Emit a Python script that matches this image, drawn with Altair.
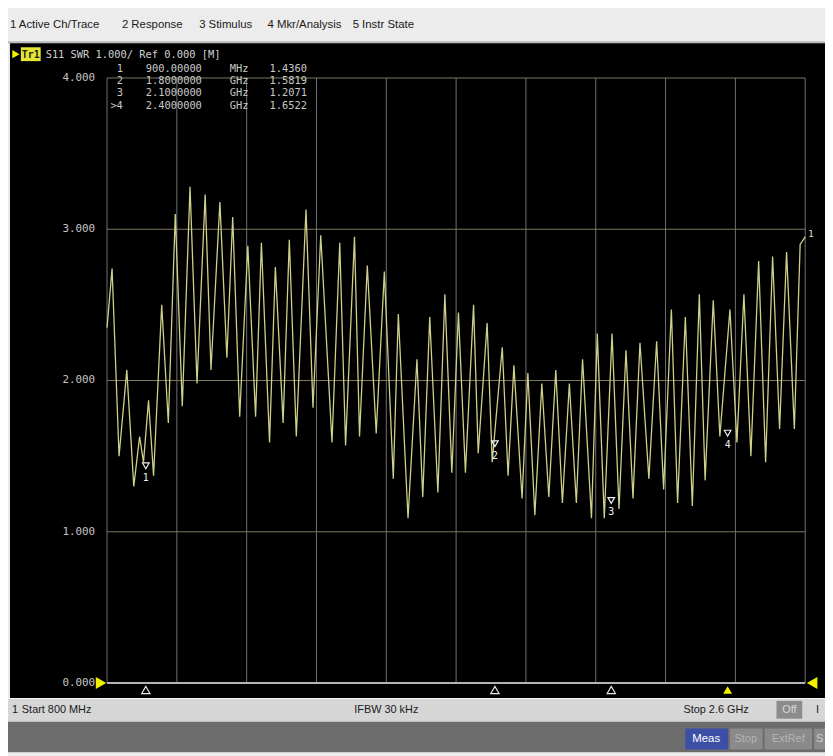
import altair as alt
import pandas as pd

# S11 SWR trace: frequency (MHz) and SWR value at each turning point
freq_mhz = [800, 813, 831, 851, 869, 884, 894, 907, 920, 941,
            958, 976, 994, 1014, 1032, 1053, 1068, 1091, 1109, 1124,
            1142, 1163, 1183, 1198, 1219, 1234, 1254, 1270, 1288, 1313,
            1331, 1351, 1380, 1400, 1415, 1438, 1451, 1471, 1494, 1515,
            1538, 1551, 1576, 1599, 1614, 1632, 1653, 1671, 1689, 1706,
            1724, 1745, 1757, 1780, 1793, 1819, 1834, 1849, 1870, 1885,
            1903, 1921, 1939, 1957, 1974, 1992, 2010, 2026, 2049, 2064,
            2082, 2102, 2120, 2138, 2156, 2174, 2197, 2217, 2235, 2255,
            2271, 2291, 2309, 2327, 2342, 2363, 2380, 2406, 2424, 2442,
            2460, 2480, 2498, 2516, 2534, 2552, 2572, 2587, 2600]
swr = [2.35, 2.74, 1.50, 2.07, 1.30, 1.63, 1.46, 1.87, 1.37, 2.50,
       1.72, 3.10, 1.83, 3.28, 1.98, 3.23, 2.07, 3.18, 2.15, 3.08,
       1.76, 2.89, 1.76, 2.91, 1.59, 2.75, 1.72, 2.93, 1.63, 3.13,
       1.82, 2.96, 1.59, 2.91, 1.57, 2.95, 1.63, 2.76, 1.65, 2.72,
       1.35, 2.44, 1.09, 2.14, 1.23, 2.42, 1.26, 2.57, 1.39, 2.45,
       1.39, 2.50, 1.52, 2.38, 1.46, 2.22, 1.37, 2.10, 1.22, 2.05,
       1.11, 1.98, 1.23, 2.07, 1.19, 1.98, 1.19, 2.14, 1.09, 2.31,
       1.09, 2.31, 1.15, 2.20, 1.22, 2.25, 1.35, 2.26, 1.28, 2.47,
       1.19, 2.42, 1.17, 2.57, 1.34, 2.53, 1.63, 2.47, 1.59, 2.57,
       1.50, 2.79, 1.46, 2.82, 1.68, 2.85, 1.68, 2.90, 2.95]

# markers
mkr_id = ["1", "2", "3", "4"]
mkr_label = ["1", "2", "3", ">4"]
mkr_freq = [900, 1800, 2100, 2400]
mkr_freq_txt = ["900.00000", "1.8000000", "2.1000000", "2.4000000"]
mkr_unit = ["MHz", "GHz", "GHz", "GHz"]
mkr_val = [1.4360, 1.5819, 1.2071, 1.6522]
mkr_active = [False, False, False, True]

# graticule
x_grid = [800, 980, 1160, 1340, 1520, 1700, 1880, 2060, 2240, 2420, 2600]
y_ticks = [0, 1, 2, 3, 4]

menu_items = ["1 Active Ch/Trace", "2 Response", "3 Stimulus", "4 Mkr/Analysis", "5 Instr State"]
menu_x = [10, 123, 201, 270, 356]

# ---------------- layout ----------------
W, H = 705, 611          # plot area (page x 108..813, y 75..686)
OX, OY = 108, 75


def px(x):
    return x - OX


def py(y):
    return y - OY


xs = alt.Scale(domain=[800, 2600], nice=False, zero=False)
ys = alt.Scale(domain=[0, 4], nice=False, zero=False)
one = pd.DataFrame({"k": [0]})
MONO = "DejaVu Sans Mono"
SANS = "Liberation Sans"


def box(x1, y1, x2, y2, color, **kw):
    return alt.Chart(one).mark_rect(color=color, **kw).encode(
        x=alt.value(px(x1)), x2=alt.value(px(x2)),
        y=alt.value(py(y1)), y2=alt.value(py(y2)))


def label(x, y, s, **kw):
    return alt.Chart(one).mark_text(text=s, **kw).encode(
        x=alt.value(px(x)), y=alt.value(py(y)))


layers = []

# screen panels
layers.append(box(8, 38, 833, 40, "#b8b8b8"))
layers.append(box(10, 40, 833, 701, "#000000"))
layers.append(box(8, 701, 833, 725, "#d6d6d6"))
layers.append(box(8, 701, 833, 702, "#f4f4f4"))
layers.append(box(8, 725, 833, 756, "#6c6c6c"))

# menu
for s, x in zip(menu_items, menu_x):
    layers.append(label(x, 22, s, align="left", baseline="middle", font=SANS,
                        fontSize=11.5, color="#1a1a1a"))

# header
layers.append(alt.Chart(one).mark_point(shape="triangle-right", filled=True, size=70,
                                        color="#f0f000", opacity=1).encode(
    x=alt.value(px(16)), y=alt.value(py(51))))
layers.append(box(21, 44, 41, 58, "#e6e632"))
layers.append(label(31, 51.5, "Tr1", align="center", baseline="middle", font=MONO,
                    fontSize=10, color="#202020", fontWeight="bold"))
layers.append(label(46, 51.5, "S11  SWR 1.000/ Ref 0.000 [M]", align="left",
                    baseline="middle", font=MONO, fontSize=10.5, color="#d0d0d0"))

# graticule
vg = pd.DataFrame({"f": x_grid})
layers.append(alt.Chart(vg).mark_rule(color="#707070", strokeWidth=1).encode(
    x=alt.X("f:Q", scale=xs, axis=None), y=alt.value(0), y2=alt.value(H)))
hg = pd.DataFrame({"v": y_ticks[1:]})
layers.append(alt.Chart(hg).mark_rule(color="#7a7a60", strokeWidth=1).encode(
    y=alt.Y("v:Q", scale=ys, axis=None), x=alt.value(0), x2=alt.value(W)))
layers.append(alt.Chart(pd.DataFrame({"v": [0]})).mark_rule(color="#b4b4b4", strokeWidth=2).encode(
    y=alt.Y("v:Q", scale=ys, axis=None), x=alt.value(0), x2=alt.value(W)))

# y labels
yl = pd.DataFrame({"v": y_ticks, "t": [f"{v:.3f}" for v in y_ticks]})
layers.append(alt.Chart(yl).mark_text(align="right", baseline="middle", font=MONO,
                                      fontSize=11, color="#c4c4c4").encode(
    y=alt.Y("v:Q", scale=ys, axis=None), x=alt.value(px(96)), text="t:N"))

# reference-level arrows
layers.append(alt.Chart(pd.DataFrame({"v": [0]})).mark_point(
    shape="triangle-right", filled=True, size=150, color="#f0f000", opacity=1).encode(
    y=alt.Y("v:Q", scale=ys, axis=None), x=alt.value(-6)))
layers.append(alt.Chart(pd.DataFrame({"v": [0]})).mark_point(
    shape="triangle-left", filled=True, size=150, color="#f0f000", opacity=1).encode(
    y=alt.Y("v:Q", scale=ys, axis=None), x=alt.value(W + 7)))

# trace
tr = pd.DataFrame({"f": freq_mhz, "swr": swr})
layers.append(alt.Chart(tr).mark_line(color="#d0d08a", strokeWidth=1.3).encode(
    x=alt.X("f:Q", scale=xs, axis=None), y=alt.Y("swr:Q", scale=ys, axis=None)))
layers.append(label(816, 233, "1", align="left", baseline="middle", font=MONO,
                    fontSize=9, color="#e0e0e0"))

# markers on trace
mk = pd.DataFrame({"f": mkr_freq, "v": mkr_val, "id": mkr_id, "act": mkr_active})
layers.append(alt.Chart(mk).mark_point(shape="triangle-down", filled=False, size=45,
                                       color="#f0f0f0", strokeWidth=1.2, opacity=1).encode(
    x=alt.X("f:Q", scale=xs, axis=None), y=alt.Y("v:Q", scale=ys, axis=None)))
layers.append(alt.Chart(mk).mark_text(font=MONO, fontSize=10, color="#f0f0f0", dy=12,
                                      baseline="middle").encode(
    x=alt.X("f:Q", scale=xs, axis=None), y=alt.Y("v:Q", scale=ys, axis=None), text="id:N"))

# marker indicators under the graticule
mk_off = mk[~mk["act"]]
mk_on = mk[mk["act"]]
layers.append(alt.Chart(mk_off).mark_point(shape="triangle-up", filled=False, size=70,
                                           color="#e8e8e8", strokeWidth=1.2, opacity=1).encode(
    x=alt.X("f:Q", scale=xs, axis=None), y=alt.value(H + 7)))
layers.append(alt.Chart(mk_on).mark_point(shape="triangle-up", filled=True, size=80,
                                          color="#f0f000", opacity=1).encode(
    x=alt.X("f:Q", scale=xs, axis=None), y=alt.value(H + 7)))

# marker table (one text row per marker)
row_top, row_step = 65.5, 12.5
for i in range(len(mkr_label)):
    yrow = row_top + i * row_step
    layers.append(label(124, yrow, mkr_label[i], align="right", baseline="middle",
                        font=MONO, fontSize=10.5, color="#c8c8c8"))
    layers.append(label(147, yrow, mkr_freq_txt[i], align="left", baseline="middle",
                        font=MONO, fontSize=10.5, color="#c8c8c8"))
    layers.append(label(232, yrow, mkr_unit[i], align="left", baseline="middle",
                        font=MONO, fontSize=10.5, color="#c8c8c8"))
    layers.append(label(272, yrow, f"{mkr_val[i]:.4f}", align="left", baseline="middle",
                        font=MONO, fontSize=10.5, color="#c8c8c8"))

# status bar
layers.append(label(12, 713, "1", align="left", baseline="middle", font=SANS, fontSize=11, color="#1a1a1a"))
layers.append(label(22, 713, "Start 800 MHz", align="left", baseline="middle", font=SANS, fontSize=11, color="#1a1a1a"))
layers.append(label(390, 713, "IFBW 30 kHz", align="center", baseline="middle", font=SANS, fontSize=11, color="#1a1a1a"))
layers.append(label(756, 713, "Stop 2.6 GHz", align="right", baseline="middle", font=SANS, fontSize=11, color="#1a1a1a"))
layers.append(box(784, 704, 810, 722, "#8c8c8c"))
layers.append(label(797, 713, "Off", align="center", baseline="middle", font=SANS, fontSize=11, color="#d8d8d8"))
layers.append(label(824, 713, "I", align="left", baseline="middle", font=SANS, fontSize=11, color="#1a1a1a"))

# bottom buttons
layers.append(box(692, 732, 735, 753, "#3c4fa6"))
layers.append(label(713, 743, "Meas", align="center", baseline="middle", font=SANS, fontSize=11.5, color="#ffffff"))
layers.append(box(737, 732, 770, 753, "#8a8a8a"))
layers.append(label(753, 743, "Stop", align="center", baseline="middle", font=SANS, fontSize=11, color="#b4b4b4"))
layers.append(box(772, 732, 820, 753, "#8a8a8a"))
layers.append(label(796, 743, "ExtRef", align="center", baseline="middle", font=SANS, fontSize=11, color="#b4b4b4"))
layers.append(box(822, 732, 833, 753, "#8a8a8a"))
layers.append(label(824, 743, "S", align="left", baseline="middle", font=SANS, fontSize=11, color="#d0d0d0"))

chart = alt.layer(*layers).properties(
    width=W, height=H,
    padding={"left": OX - 8, "top": OY - 8, "right": 833 - OX - W, "bottom": 756 - OY - H},
    autosize=alt.AutoSizeParams(type="none"),
    background="#ececec",
).configure_view(stroke=None, fill=None)

chart.save("out.html", embed_options={"renderer": "svg", "actions": False})
